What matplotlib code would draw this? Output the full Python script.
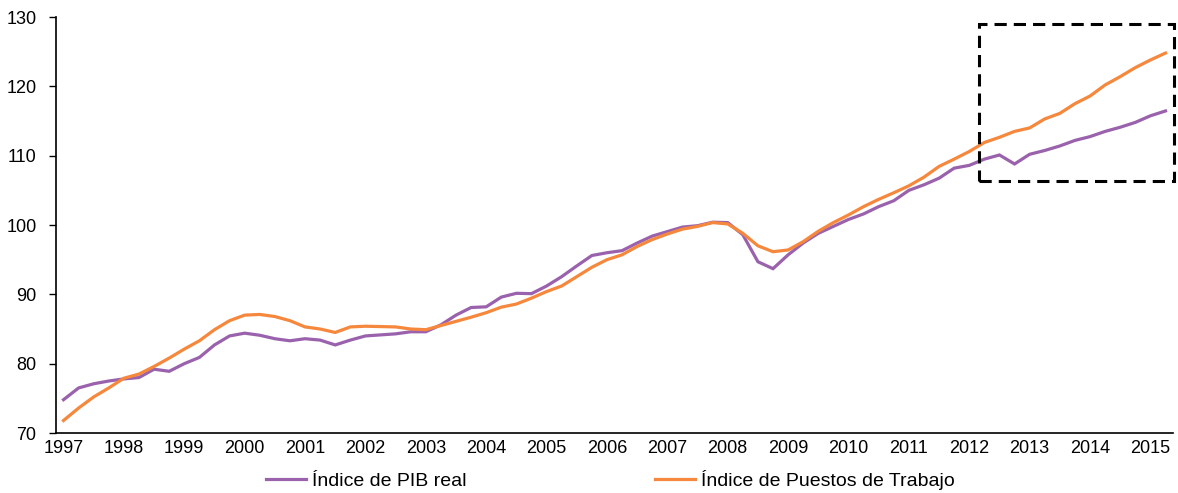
import matplotlib
matplotlib.use("Agg")
import matplotlib.pyplot as plt
from matplotlib.patches import Rectangle

plt.rcParams['font.family'] = ['Liberation Sans', 'DejaVu Sans']

years = list(range(1997, 2016))
quarters = [f"{y}T{q}" for y in years for q in range(1, 5)][:74]

pib_real = [74.8, 76.5, 77.1, 77.5, 77.8, 78.0, 79.2, 78.9, 80.0, 80.9,
            82.7, 84.0, 84.4, 84.1, 83.6, 83.3, 83.6, 83.4, 82.7, 83.4,
            84.0, 84.15, 84.3, 84.6, 84.6, 85.6, 87.0, 88.1, 88.2, 89.6,
            90.15, 90.1, 91.2, 92.55, 94.1, 95.6, 96.0, 96.3, 97.4, 98.4,
            99.05, 99.7, 99.9, 100.4, 100.35, 98.6, 94.7, 93.7, 95.7, 97.4,
            98.8, 99.8, 100.8, 101.6, 102.65, 103.5, 105.0, 105.8, 106.75, 108.2,
            108.6, 109.5, 110.1, 108.8, 110.2, 110.75, 111.4, 112.2, 112.75, 113.5,
            114.1, 114.8, 115.75, 116.45]

puestos = [71.8, 73.6, 75.2, 76.5, 77.9, 78.5, 79.6, 80.8, 82.1, 83.3,
           84.9, 86.2, 87.0, 87.1, 86.8, 86.2, 85.3, 85.0, 84.5, 85.3,
           85.4, 85.35, 85.3, 85.0, 84.9, 85.5, 86.1, 86.7, 87.35, 88.15,
           88.6, 89.45, 90.4, 91.2, 92.55, 93.9, 95.0, 95.7, 96.9, 97.9,
           98.7, 99.4, 99.8, 100.35, 100.15, 98.8, 97.0, 96.15, 96.4, 97.6,
           99.1, 100.35, 101.45, 102.65, 103.7, 104.65, 105.65, 106.9, 108.45, 109.5,
           110.6, 111.9, 112.65, 113.5, 114.0, 115.3, 116.1, 117.5, 118.6, 120.2,
           121.4, 122.7, 123.8, 124.8]

series_names = ["Índice de PIB real", "Índice de Puestos de Trabajo"]
y_ticks = [70, 80, 90, 100, 110, 120, 130]

# highlighted region (quarter index start, end; value bottom, top)
box_x = (60.63, 73.55)
box_y = (106.4, 128.95)

purple = '#9A62AD'
orange = '#F5883C'

fig = plt.figure(figsize=(11.78, 4.93), dpi=100)
ax = fig.add_axes([0.0475, 0.1217, 0.9483, 0.8438])

x = list(range(len(quarters)))
l1, = ax.plot(x, pib_real, color=purple, lw=2.3, solid_joinstyle='miter')
l2, = ax.plot(x, puestos, color=orange, lw=2.3, solid_joinstyle='miter')

ax.set_xlim(-0.5, len(quarters) - 0.5)
ax.set_ylim(70, 130)
ax.set_yticks(y_ticks)
ax.set_yticklabels([str(v) for v in y_ticks], fontsize=13)
ax.set_xticks([quarters.index(f"{y}T1") for y in years])
ax.set_xticklabels([str(y) for y in years], fontsize=13)
ax.tick_params(axis='x', length=0, pad=5)
ax.tick_params(axis='y', length=5, width=1, direction='out', pad=9)

for s in ['top', 'right']:
    ax.spines[s].set_visible(False)
ax.spines['left'].set_linewidth(1.2)
ax.spines['bottom'].set_linewidth(1.2)

rect = Rectangle((box_x[0], box_y[0]), box_x[1] - box_x[0], box_y[1] - box_y[0],
                 fill=False, edgecolor='black', lw=2.2, linestyle=(0, (4, 2.3)),
                 clip_on=False, zorder=5)
ax.add_patch(rect)

fig.legend([l1, l2], series_names, loc='center', bbox_to_anchor=(0.518, 0.027),
           ncol=2, frameon=False, fontsize=14, handlelength=2.06,
           handletextpad=0.31, columnspacing=9.7)

fig.savefig("out.png", dpi=100)
